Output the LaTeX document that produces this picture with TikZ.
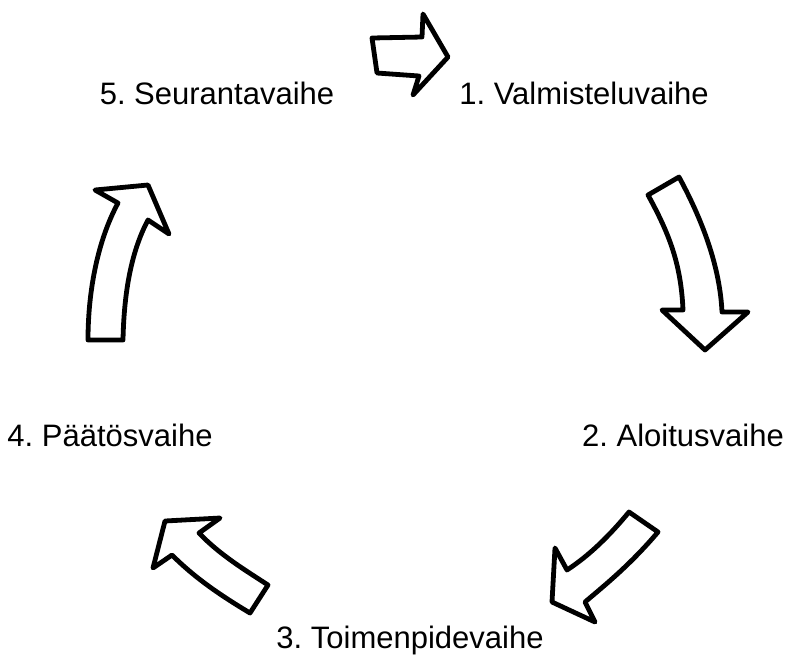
\documentclass[tikz,border=0pt]{standalone}
\usepackage{fontspec}
\setmainfont{Liberation Sans}
\frenchspacing
\begin{document}
\begin{tikzpicture}[x=1pt,y=-1pt,
  lbl/.style={anchor=base,inner sep=0pt,font=\fontsize{31}{36}\selectfont},
  blockarrow/.style={draw=black,fill=white,line width=4.8pt,line join=round}]
\useasboundingbox (0,0) rectangle (799,657);
% labels
\node[lbl] (s5) at (217,104) {5. Seurantavaihe};
\node[lbl] (s1) at (584,104) {1. Valmisteluvaihe};
\node[lbl] (s2) at (683,446) {2. Aloitusvaihe};
\node[lbl] (s4) at (110,446) {4. Päätösvaihe};
\node[lbl] (s3) at (410,648) {3. Toimenpidevaihe};
% arrow 5 -> 1
\draw[blockarrow] (372,38) -- (422,37) -- (423,14) -- (448,57) -- (413,95) -- (419,76) -- (377,73) -- cycle;
% arrow 1 -> 2
\draw[blockarrow] (648,195) -- (679,177) .. controls (705,225) and (720,270) .. (722,312)
  -- (748,312) -- (705,350) -- (662,310) -- (683,310)
  .. controls (681,265) and (670,235) .. (648,195) -- cycle;
% arrow 2 -> 3
\draw[blockarrow] (629,512) -- (658,532) .. controls (630,565) and (605,585) .. (585,602)
  -- (595,622) -- (552,602) -- (555,548) -- (567,570)
  .. controls (590,555) and (610,535) .. (629,512) -- cycle;
% arrow 3 -> 4
\draw[blockarrow] (165,521) -- (220,518) -- (199,533) .. controls (220,555) and (245,570) .. (268,585)
  -- (250,613) .. controls (220,595) and (195,578) .. (172,555)
  -- (153,568) -- cycle;
% arrow 4 -> 5
\draw[blockarrow] (88,340) -- (123,340) .. controls (124,290) and (132,250) .. (148,220)
  -- (169,234) -- (148,185) -- (95,190) -- (118,203)
  .. controls (98,240) and (88,290) .. (88,340) -- cycle;
\end{tikzpicture}
\end{document}
